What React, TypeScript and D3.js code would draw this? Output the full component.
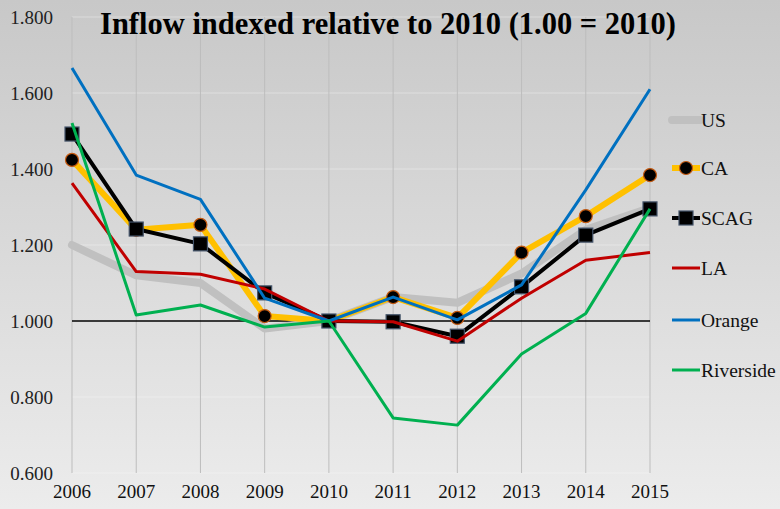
import React from "react";
import * as d3 from "d3";

const years = [2006, 2007, 2008, 2009, 2010, 2011, 2012, 2013, 2014, 2015];
const usValues = [1.2, 1.12, 1.1, 0.98, 1.0, 1.063, 1.048, 1.125, 1.24, 1.297];
const caValues = [1.424, 1.24, 1.253, 1.013, 1.0, 1.063, 1.008, 1.18, 1.276, 1.384];
const scagValues = [1.492, 1.242, 1.203, 1.074, 1.0, 0.998, 0.96, 1.09, 1.226, 1.295];
const laValues = [1.363, 1.13, 1.123, 1.084, 1.0, 0.998, 0.947, 1.06, 1.16, 1.18];
const orangeValues = [1.666, 1.384, 1.32, 1.06, 1.0, 1.063, 1.003, 1.095, 1.345, 1.61];
const riversideValues = [1.521, 1.016, 1.042, 0.984, 1.0, 0.745, 0.726, 0.913, 1.02, 1.295];
const yTicks = [0.6, 0.8, 1.0, 1.2, 1.4, 1.6, 1.8];
const seriesNames = ["US", "CA", "SCAG", "LA", "Orange", "Riverside"];

type Series = { name: string; values: number[]; color: string; width: number; marker?: "circle" | "square" };

const series: Series[] = [
  { name: seriesNames[0], values: usValues, color: "#c0c0c0", width: 8 },
  { name: seriesNames[1], values: caValues, color: "#ffc000", width: 6, marker: "circle" },
  { name: seriesNames[2], values: scagValues, color: "#000000", width: 4, marker: "square" },
  { name: seriesNames[3], values: laValues, color: "#c00000", width: 3 },
  { name: seriesNames[4], values: orangeValues, color: "#0070c0", width: 3 },
  { name: seriesNames[5], values: riversideValues, color: "#00b050", width: 3 },
];

const W = 780;
const H = 509;
const left = 72;
const right = 650;
const top = 17;
const bottom = 473;
const font = "Liberation Serif, DejaVu Serif, serif";

function Marker({ type, x, y }: { type?: string; x: number; y: number }) {
  if (type === "circle")
    return <circle cx={x} cy={y} r={6.5} fill="#000" stroke="#c55a11" strokeWidth={1.2} />;
  if (type === "square")
    return <rect x={x - 7} y={y - 7} width={14} height={14} fill="#000" stroke="#44546a" strokeWidth={1.2} />;
  return null;
}

export default function App() {
  const x = d3.scalePoint<number>().domain(years).range([left, right]);
  const y = d3.scaleLinear().domain([0.6, 1.8]).range([bottom, top]);
  const line = d3
    .line<number>()
    .x((_, i) => x(years[i]) as number)
    .y((d) => y(d));

  const legendY = [120, 168, 218, 268, 320, 370];

  return (
    <svg width={W} height={H} style={{ position: "absolute", left: 0, top: 0 }}>
      <defs>
        <linearGradient id="bg" x1="0" y1="0" x2="0" y2="1">
          <stop offset="0" stopColor="#c8c8c8" />
          <stop offset="1" stopColor="#ececec" />
        </linearGradient>
      </defs>
      <rect x={0} y={0} width={W} height={H} fill="url(#bg)" />
      {yTicks.map((t) => (
        <line key={"h" + t} x1={left} x2={right} y1={y(t)} y2={y(t)} stroke="#ffffff" strokeOpacity={0.35} strokeWidth={1.2} />
      ))}
      {years.map((yr) => (
        <line key={"v" + yr} x1={x(yr)} x2={x(yr)} y1={top} y2={bottom} stroke="#bdbdbd" strokeWidth={1} />
      ))}
      <line x1={left} x2={right} y1={y(1)} y2={y(1)} stroke="#000" strokeWidth={1.6} />
      <g style={{ fontFamily: font }}>
        {yTicks.map((t) => (
          <text key={"yl" + t} x={53} y={y(t)} dy="0.35em" textAnchor="end" fontSize={19} fill="#222">
            {d3.format(".3f")(t)}
          </text>
        ))}
        {years.map((yr) => (
          <text key={"xl" + yr} x={x(yr)} y={498} textAnchor="middle" fontSize={19} fill="#111">
            {yr}
          </text>
        ))}
      </g>
      {series.map((s) => (
        <g key={s.name}>
          <path d={line(s.values) || ""} fill="none" stroke={s.color} strokeWidth={s.width} strokeLinejoin="round" strokeLinecap={s.name === "US" ? "round" : "butt"} />
          {s.marker && s.values.map((v, i) => <Marker key={i} type={s.marker} x={x(years[i]) as number} y={y(v)} />)}
        </g>
      ))}
      {series.map((s, i) => (
        <g key={"lg" + s.name}>
          <line x1={672} x2={700} y1={legendY[i]} y2={legendY[i]} stroke={s.color} strokeWidth={s.width} strokeLinecap={s.name === "US" ? "round" : "butt"} />
          <Marker type={s.marker} x={686} y={legendY[i]} />
          <text x={701} y={legendY[i]} dy="0.35em" style={{ fontFamily: font }} fontSize={19.5} fill="#111">
            {s.name}
          </text>
        </g>
      ))}
      <text x={388} y={34} textAnchor="middle" style={{ fontFamily: font }} fontSize={30.5} fontWeight="bold" fill="#000">
        Inflow indexed relative to 2010 (1.00 = 2010)
      </text>
    </svg>
  );
}
